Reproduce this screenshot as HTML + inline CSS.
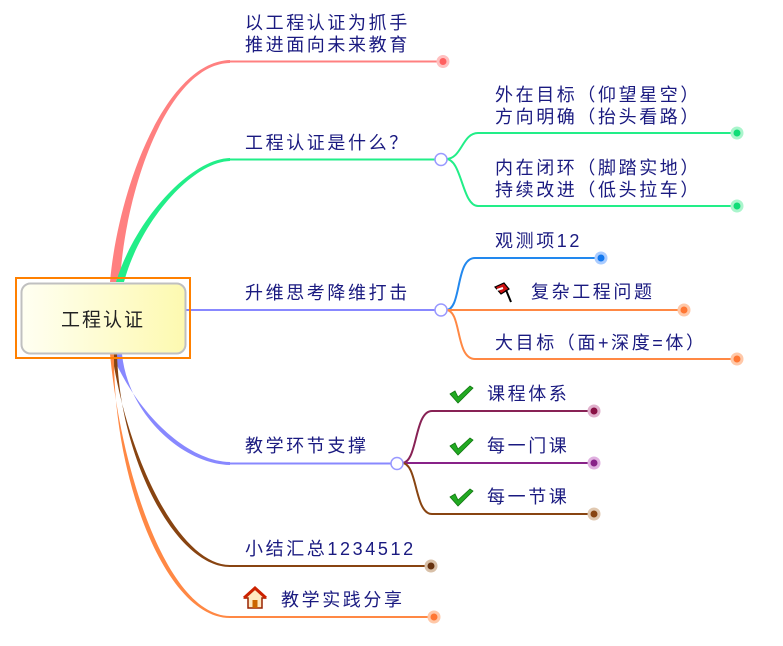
<!DOCTYPE html>
<html><head><meta charset="utf-8"><style>
html,body{margin:0;padding:0;background:#fff;width:783px;height:646px;overflow:hidden}
svg{display:block}
text{font-family:"Liberation Sans","WenQuanYi Zen Hei","Noto Sans CJK SC",sans-serif;font-size:18px;letter-spacing:2.6px;fill:#1a1a80}
</style></head><body>
<svg width="783" height="646" viewBox="0 0 783 646" xmlns="http://www.w3.org/2000/svg">
<defs>
<linearGradient id="g" x1="0" x2="1" y1="0" y2="0"><stop offset="0" stop-color="#fffff2"/><stop offset="1" stop-color="#fdf9b0"/></linearGradient>
</defs>
<path d="M110,282 C118,190 165,62 230,60 L230,63 C168,64 125,190 120,282 Z" fill="#ff8080"/>
<line x1="229" y1="61.5" x2="443" y2="61.5" stroke="#ff8080" stroke-width="2"/>
<path d="M116,282 C135,220 190,159 230,158 L230,161 C192,162 140,222 124,282 Z" fill="#22ee88"/>
<line x1="229" y1="159.5" x2="436" y2="159.5" stroke="#22ee88" stroke-width="2"/>
<line x1="186" y1="310" x2="436" y2="310" stroke="#8888ff" stroke-width="2"/>
<path d="M112,354 C135,410 185,461 230,462 L230,465 C182,464 128,414 122,354 Z" fill="#8888ff"/>
<line x1="229" y1="463.5" x2="392" y2="463.5" stroke="#8888ff" stroke-width="2"/>
<path d="M112,354 C128,460 180,565 230,565 L230,567 C176,567 120,460 117,354 Z" fill="#884411"/>
<line x1="229" y1="566" x2="431" y2="566" stroke="#884411" stroke-width="2"/>
<path d="M110,354 C122,480 170,616 230,616 L230,618 C166,618 113,480 114,354 Z" fill="#ff8844"/>
<line x1="229" y1="617" x2="434" y2="617" stroke="#ff8844" stroke-width="2"/>
<g fill="none" stroke-width="2">
<path d="M446,159 C462,159 462,133 478,133 L737,133" stroke="#22ee88"/>
<path d="M446,159 C462,159 462,206 478,206 L737,206" stroke="#22ee88"/>
<path d="M446,310 C462,310 455,258 475,258 L601,258" stroke="#2288ee"/>
<path d="M446,310 L684,310" stroke="#ff8844"/>
<path d="M446,310 C462,310 455,359 475,359 L737,359" stroke="#ff8844"/>
<path d="M402,463 C418,463 414,411 432,411 L594,411" stroke="#882255"/>
<path d="M402,463 L594,463" stroke="#882288"/>
<path d="M402,463 C418,463 414,514 432,514 L594,514" stroke="#884411"/>
</g>
<circle cx="441" cy="159.5" r="6" fill="#fff" stroke="#9999ff" stroke-width="1.5"/>
<circle cx="441" cy="310" r="6" fill="#fff" stroke="#9999ff" stroke-width="1.5"/>
<circle cx="397" cy="463.5" r="6" fill="#fff" stroke="#9999ff" stroke-width="1.5"/>
<g stroke-width="3">
<circle cx="443" cy="61.5" r="5" fill="#ff6060" stroke="#ffc0c0"/>
<circle cx="737" cy="133" r="5" fill="#11dd77" stroke="#aaf5cc"/>
<circle cx="737" cy="206" r="5" fill="#11dd77" stroke="#aaf5cc"/>
<circle cx="601" cy="258" r="5" fill="#1177ee" stroke="#aaccff"/>
<circle cx="684" cy="310" r="5" fill="#ff7733" stroke="#ffc8a8"/>
<circle cx="737" cy="359" r="5" fill="#ff7733" stroke="#ffc8a8"/>
<circle cx="594" cy="411" r="5" fill="#881144" stroke="#e0b0cc"/>
<circle cx="594" cy="463" r="5" fill="#882288" stroke="#e0b0e0"/>
<circle cx="594" cy="514" r="5" fill="#884411" stroke="#e0c8b0"/>
<circle cx="431" cy="566" r="5" fill="#663311" stroke="#d8c0a8"/>
<circle cx="434" cy="617" r="5" fill="#ff7733" stroke="#ffc8a8"/>
</g>
<rect x="16" y="278" width="174" height="80" fill="none" stroke="#ff8000" stroke-width="2"/>
<rect x="21.5" y="283.5" width="164" height="70" rx="9" fill="url(#g)" stroke="#c0c0c0" stroke-width="2"/>
<text x="103" y="326" text-anchor="middle" style="font-size:19px;fill:#222;letter-spacing:2px">工程认证</text>
<text x="245" y="29">以工程认证为抓手</text>
<text x="245" y="51">推进面向未来教育</text>
<text x="245" y="149">工程认证是什么？</text>
<text x="495" y="101">外在目标（仰望星空）</text>
<text x="495" y="123">方向明确（抬头看路）</text>
<text x="495" y="174">内在闭环（脚踏实地）</text>
<text x="495" y="196">持续改进（低头拉车）</text>
<text x="245" y="299">升维思考降维打击</text>
<text x="495" y="247">观测项12</text>
<text x="531" y="298">复杂工程问题</text>
<text x="495" y="349">大目标（面+深度=体）</text>
<text x="245" y="452">教学环节支撑</text>
<text x="487" y="400">课程体系</text>
<text x="487" y="452">每一门课</text>
<text x="487" y="503">每一节课</text>
<text x="245" y="555">小结汇总1234512</text>
<text x="281" y="606">教学实践分享</text>
<g transform="translate(494,282)">
<path d="M1,5 L10,1 L15,7 L7,12 Z" fill="#cc1111" stroke="#000" stroke-width="1.2"/>
<path d="M3,8 L9,6" stroke="#fff" stroke-width="2"/>
<line x1="12" y1="8" x2="17" y2="20" stroke="#000" stroke-width="2"/>
</g>
<g fill="#22aa22" stroke="#117711" stroke-width="0.8">
<path d="M450,394 L455,391 L458,397 L470,386 L473,388 L458,403 Z"/>
<path d="M450,446 L455,443 L458,449 L470,438 L473,440 L458,455 Z"/>
<path d="M450,497 L455,494 L458,500 L470,489 L473,491 L458,506 Z"/>
</g>
<g transform="translate(244,588)">
<path d="M1,10 L11,1 L21,10 L18,10 L18,20 L4,20 L4,10 Z" fill="#ffe8c0" stroke="#992200" stroke-width="1.5"/>
<path d="M0,10 L11,0 L22,10" fill="none" stroke="#cc2200" stroke-width="3"/>
<rect x="8.5" y="12" width="5" height="8" fill="#cc6600"/>
</g>
</svg>
</body></html>
